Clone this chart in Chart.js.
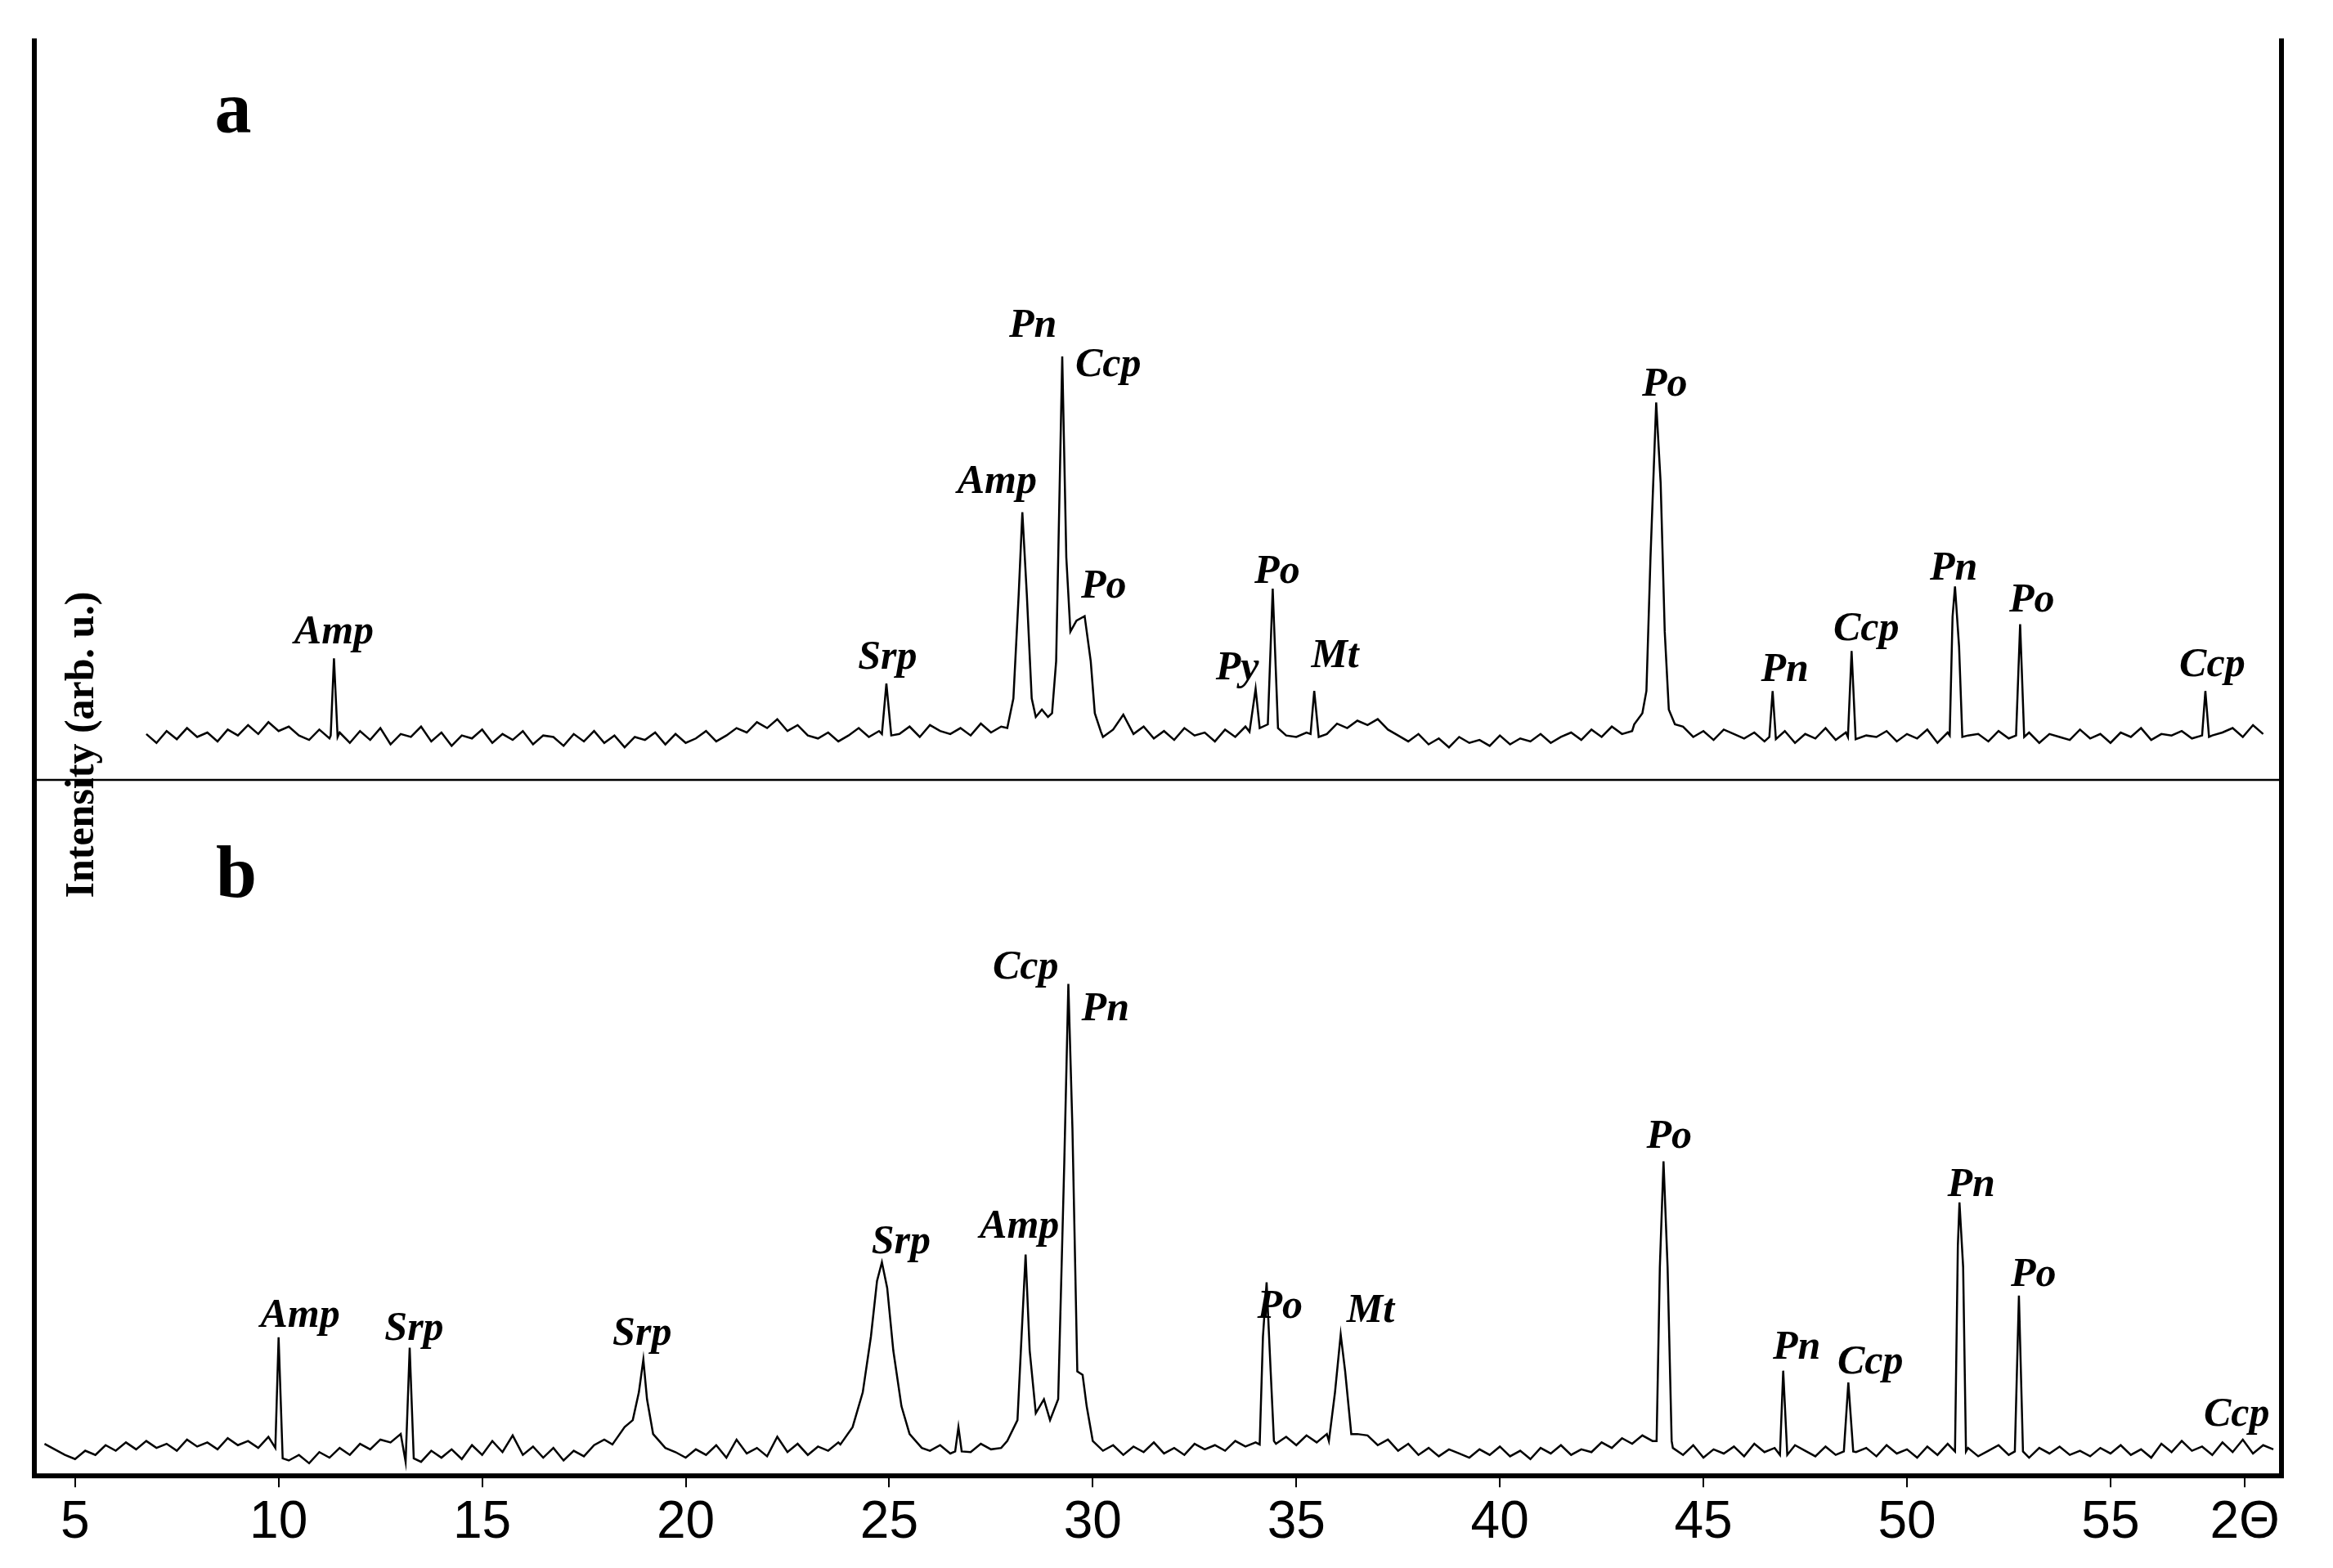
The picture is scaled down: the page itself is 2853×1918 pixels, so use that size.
<!DOCTYPE html>
<html>
<head>
<meta charset="utf-8">
<script src="https://cdn.jsdelivr.net/npm/chart.js@4.4.1/dist/chart.umd.min.js"></script>
<style>
  html, body { margin: 0; padding: 0; background: #fff; }
  #wrap { width: 2853px; height: 1918px; }
</style>
</head>
<body>
<div id="wrap"><canvas id="xrd" width="2853" height="1918"></canvas></div>
<script>
// 2-theta ticks
const tickValues = [5, 10, 15, 20, 25, 30, 35, 40, 45, 50, 55, 58.3];
const tickLabels = ['5', '10', '15', '20', '25', '30', '35', '40', '45', '50', '55', '2\u0398'];

// pattern a: background read every 0.25 deg starting at 6.75
const startA = 6.75;
const baseA = [
  62, 50, 66, 55, 70, 58, 64, 52, 68, 60, 74, 62, 78, 66, 72, 60, 54, 68, 56, 64,
  50, 66, 54, 70, 48, 62, 58, 72, 52, 64, 46, 60, 56, 68, 50, 62, 54, 66, 48, 60,
  58, 46, 62, 52, 66, 50, 60, 44, 58, 54, 64, 48, 62, 50, 56, 66, 52, 60, 70, 64,
  78, 70, 82, 66, 74, 60, 56, 64, 52, 60, 70, 58, 66, 54, 62, 72, 58, 74, 66, 62,
  70, 60, 76, 64, 72, 80, 66, 78, 70, 66, 60, 70, 64, 74, 58, 68, 88, 62, 72, 56,
  66, 54, 70, 60, 64, 52, 68, 58, 72, 62, 56, 66, 60, 58, 64, 54, 62, 76, 70, 80,
  74, 82, 68, 60, 52, 62, 48, 56, 44, 58, 50, 54, 46, 60, 48, 56, 52, 62, 50, 58,
  64, 54, 68, 58, 72, 62, 66, 76, 70, 64, 60, 72, 58, 66, 54, 68, 62, 56, 64, 52,
  58, 66, 50, 62, 56, 70, 54, 64, 48, 60, 58, 66, 52, 62, 56, 68, 50, 64, 58, 60,
  62, 52, 66, 56, 60, 64, 50, 62, 58, 54, 68, 56, 62, 50, 64, 58, 70, 54, 62, 60,
  66, 56, 72, 60, 64, 70, 58, 74, 62];
const peaksA = [
  [11.28, 60], [11.36, 164], [11.45, 58],
  [24.82, 62], [24.93, 130], [25.05, 60],
  [27.9, 70], [28.05, 110], [28.18, 250], [28.27, 361], [28.38, 250], [28.5, 110], [28.6, 85],
  [28.75, 95], [28.9, 85], [29.0, 90], [29.1, 160], [29.25, 571], [29.35, 300], [29.45, 200],
  [29.6, 215], [29.8, 221], [29.95, 160], [30.05, 90], [30.2, 65],
  [33.85, 65], [34.0, 123], [34.1, 70], [34.3, 75], [34.42, 258], [34.55, 70],
  [35.35, 62], [35.44, 120], [35.55, 58],
  [43.3, 75], [43.5, 90], [43.6, 120], [43.7, 300], [43.84, 509], [43.95, 400], [44.05, 200], [44.15, 95], [44.3, 75],
  [46.62, 58], [46.7, 120], [46.78, 55],
  [48.55, 58], [48.64, 174], [48.74, 55],
  [51.05, 60], [51.12, 220], [51.18, 261], [51.28, 180], [51.36, 58],
  [52.68, 60], [52.78, 210], [52.88, 58],
  [57.25, 60], [57.33, 120], [57.42, 58]
];

// pattern b: background read every 0.25 deg starting at 4.25
const startB = 4.25;
const baseB = [
  46, 38, 30, 24, 36, 30, 44, 36, 48, 38, 50, 40, 46, 36, 52, 42, 48, 38, 54, 44,
  50, 40, 56, 46, 22, 30, 18, 34, 26, 40, 30, 46, 38, 52, 48, 60, 30, 20, 36, 26,
  38, 24, 44, 30, 50, 34, 58, 30, 42, 26, 40, 22, 36, 28, 44, 52, 60, 70, 80, 90,
  50, 40, 34, 26, 38, 30, 44, 26, 52, 32, 40, 28, 56, 34, 46, 30, 42, 36, 48, 40,
  60, 60, 60, 60, 60, 50, 42, 36, 44, 32, 40, 34, 46, 38, 40, 36, 44, 40, 60, 60,
  60, 60, 60, 46, 36, 44, 30, 42, 34, 48, 32, 40, 30, 46, 38, 44, 36, 50, 42, 48,
  50, 46, 56, 44, 58, 48, 60, 52, 56, 60, 58, 44, 52, 36, 46, 30, 40, 28, 38, 32,
  26, 38, 30, 42, 28, 36, 24, 40, 32, 44, 30, 38, 34, 48, 40, 54, 46, 58, 50, 50,
  40, 30, 44, 26, 38, 32, 42, 28, 46, 34, 40, 30, 44, 36, 28, 42, 30, 38, 34, 40,
  28, 44, 32, 38, 26, 42, 30, 46, 34, 40, 28, 36, 44, 30, 38, 26, 40, 32, 42, 30,
  36, 28, 40, 32, 44, 30, 38, 26, 46, 34, 50, 36, 42, 30, 48, 34, 52, 32, 44, 38];
const peaksB = [
  [9.92, 40], [10.0, 199], [10.1, 25],
  [13.12, 20], [13.22, 184], [13.32, 25],
  [18.2, 45], [18.5, 70], [18.7, 80], [18.85, 120], [18.96, 167], [19.05, 110], [19.2, 60], [19.5, 40],
  [23.8, 45], [24.1, 70], [24.35, 120], [24.55, 200], [24.7, 280], [24.82, 307], [24.95, 270],
  [25.1, 180], [25.3, 100], [25.5, 60], [25.8, 40],
  [26.62, 35], [26.7, 70], [26.78, 35],
  [27.9, 50], [28.15, 80], [28.25, 200], [28.35, 318], [28.45, 180], [28.6, 90], [28.8, 110],
  [28.95, 80], [29.15, 110], [29.3, 450], [29.4, 707], [29.5, 500], [29.62, 150], [29.75, 145],
  [29.85, 100], [30.0, 50],
  [34.1, 45], [34.18, 200], [34.27, 278], [34.37, 150], [34.45, 50],
  [35.8, 50], [35.95, 120], [36.09, 203], [36.2, 150], [36.35, 60],
  [43.85, 50], [43.93, 300], [44.02, 452], [44.12, 300], [44.22, 50],
  [46.88, 30], [46.96, 151], [47.06, 30],
  [48.45, 35], [48.56, 134], [48.68, 35],
  [51.18, 35], [51.25, 330], [51.29, 393], [51.38, 300], [51.45, 35],
  [52.65, 35], [52.75, 259], [52.85, 35]
];

// phase labels: [text, 2theta, intensity]
const labelsA = [
  ['Amp', 11.36, 198], ['Srp', 24.96, 164], ['Amp', 27.65, 401], ['Pn', 28.53, 612],
  ['Ccp', 30.38, 559], ['Po', 30.27, 260], ['Py', 33.55, 150], ['Po', 34.53, 280],
  ['Mt', 35.95, 166], ['Po', 44.05, 533], ['Pn', 47.0, 148], ['Ccp', 49.0, 203],
  ['Pn', 51.15, 284], ['Po', 53.07, 241], ['Ccp', 57.5, 154]
];
const labelsB = [
  ['Amp', 10.53, 229], ['Srp', 13.33, 211], ['Srp', 18.93, 203], ['Srp', 25.29, 335],
  ['Amp', 28.2, 357], ['Ccp', 28.35, 730], ['Pn', 30.31, 670], ['Po', 34.6, 242],
  ['Mt', 36.82, 236], ['Po', 44.16, 486], ['Pn', 47.29, 184], ['Ccp', 49.1, 162],
  ['Pn', 51.58, 417], ['Po', 53.11, 288], ['Ccp', 58.1, 87]
];

// merge background and peak points, dropping background under each peak group
function buildPattern(start, base, peaks) {
  const groups = [];
  peaks.forEach(p => {
    const g = groups[groups.length - 1];
    if (g && p[0] - g[1] < 0.5) g[1] = p[0];
    else groups.push([p[0], p[0]]);
  });
  const pts = [];
  base.forEach((v, i) => {
    const x = start + i * 0.25;
    if (!groups.some(g => x >= g[0] - 0.01 && x <= g[1] + 0.01)) pts.push({ x: x, y: v });
  });
  peaks.forEach(p => pts.push({ x: p[0], y: p[1] }));
  pts.sort((a, b) => a.x - b.x);
  return pts;
}

const labelFont = 'italic bold 50px "Liberation Serif"';

const decorations = {
  id: 'decorations',
  afterDraw(chart) {
    const ctx = chart.ctx;
    const area = chart.chartArea;
    const xs = chart.scales.x, ya = chart.scales.ya, yb = chart.scales.yb;
    ctx.save();
    ctx.strokeStyle = '#000';
    ctx.lineWidth = 6;
    ctx.beginPath();
    ctx.moveTo(area.left, area.top);
    ctx.lineTo(area.left, area.bottom);
    ctx.lineTo(area.right, area.bottom);
    ctx.lineTo(area.right, area.top);
    ctx.stroke();
    ctx.lineWidth = 2.5;
    ctx.beginPath();
    ctx.moveTo(area.left, ya.bottom);
    ctx.lineTo(area.right, ya.bottom);
    ctx.stroke();

    ctx.fillStyle = '#000';
    ctx.font = labelFont;
    ctx.textAlign = 'center';
    ctx.textBaseline = 'middle';
    labelsA.forEach(l => ctx.fillText(l[0], xs.getPixelForValue(l[1]), ya.getPixelForValue(l[2])));
    labelsB.forEach(l => ctx.fillText(l[0], xs.getPixelForValue(l[1]), yb.getPixelForValue(l[2])));

    ctx.font = 'bold 90px "Liberation Serif"';
    ctx.fillText('a', area.left + 243, ya.top + 92);
    ctx.fillText('b', area.left + 247, yb.top + 120);

    ctx.save();
    ctx.translate(101, 911);
    ctx.rotate(-Math.PI / 2);
    ctx.font = 'bold 50px "Liberation Serif"';
    ctx.fillText('Intensity (arb. u.)', 0, 0);
    ctx.restore();
    ctx.restore();
  }
};

new Chart(document.getElementById('xrd'), {
  type: 'scatter',
  data: {
    datasets: [
      { label: 'a', data: buildPattern(startA, baseA, peaksA), yAxisID: 'ya' },
      { label: 'b', data: buildPattern(startB, baseB, peaksB), yAxisID: 'yb' }
    ]
  },
  options: {
    responsive: false,
    animation: false,
    showLine: true,
    layout: { padding: { left: 42, right: 63, top: 47, bottom: 10 } },
    elements: {
      point: { radius: 0 },
      line: { borderColor: '#000', borderWidth: 2.5, tension: 0 }
    },
    scales: {
      x: {
        type: 'linear',
        min: 4.0,
        max: 59.2,
        afterBuildTicks: axis => { axis.ticks = tickValues.map(v => ({ value: v })); },
        ticks: {
          color: '#000',
          font: { family: 'Liberation Sans', size: 64 },
          padding: 6,
          maxRotation: 0,
          autoSkip: false,
          callback: (v) => tickLabels[tickValues.indexOf(v)]
        },
        grid: { display: true, drawOnChartArea: false, tickLength: 14, color: '#000', lineWidth: 2 },
        border: { display: false }
      },
      yb: {
        type: 'linear', position: 'left', stack: 'xrd', stackWeight: 852,
        min: 0, max: 1000, display: true,
        ticks: { display: false }, grid: { display: false }, border: { display: false },
        afterFit: s => { s.width = 0; }
      },
      ya: {
        type: 'linear', position: 'left', stack: 'xrd', stackWeight: 908,
        min: 0, max: 1000, display: true,
        ticks: { display: false }, grid: { display: false }, border: { display: false },
        afterFit: s => { s.width = 0; }
      }
    },
    plugins: {
      legend: { display: false },
      tooltip: { enabled: false }
    }
  },
  plugins: [decorations]
});
</script>
</body>
</html>
